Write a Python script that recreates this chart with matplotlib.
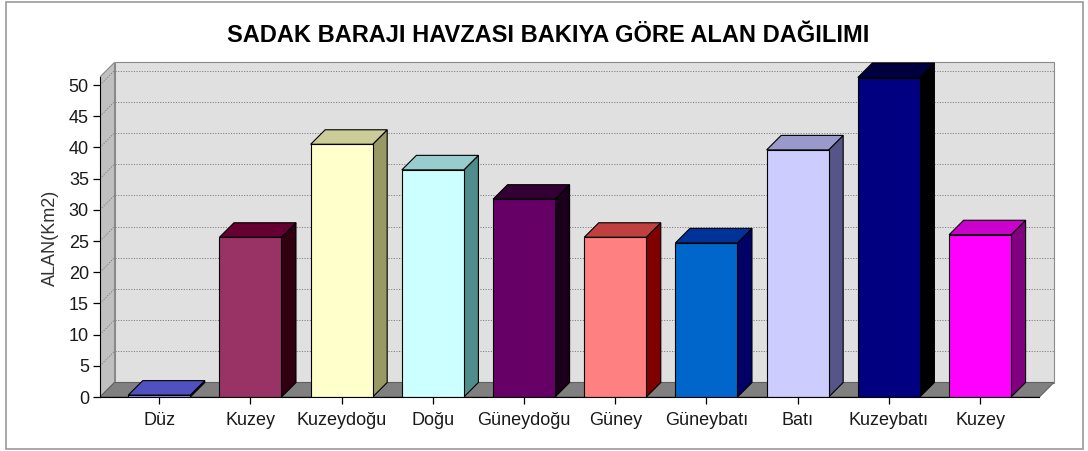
import matplotlib
matplotlib.use("Agg")
import matplotlib.pyplot as plt
from matplotlib.patches import Polygon, Rectangle

plt.rcParams['font.family'] = ['Liberation Sans', 'DejaVu Sans']

categories = ["Düz", "Kuzey", "Kuzeydoğu", "Doğu", "Güneydoğu", "Güney",
              "Güneybatı", "Batı", "Kuzeybatı", "Kuzey"]
values = [0.3, 25.6, 40.5, 36.4, 31.7, 25.6, 24.7, 39.6, 51.2, 26.0]
front_colors = ["#9999FF", "#993366", "#FFFFCC", "#CCFFFF", "#660066",
                "#FF8080", "#0066CC", "#CCCCFF", "#000080", "#FF00FF"]
top_colors = ["#5050C0", "#660033", "#CCCC99", "#99CCCC", "#330033",
              "#C04040", "#003399", "#9999CC", "#000040", "#CC00CC"]
side_colors = ["#333388", "#300010", "#999966", "#4F8C8C", "#1A001A",
               "#800000", "#000066", "#555588", "#000000", "#800080"]
yticks = list(range(0, 51, 5))
title = "SADAK BARAJI HAVZASI BAKIYA GÖRE ALAN DAĞILIMI"
ylabel = "ALAN(Km2)"

W_PX, H_PX = 1088, 451
fig = plt.figure(figsize=(W_PX / 100, H_PX / 100), dpi=100)
fig.patch.set_facecolor("white")

# geometry (pixels)
px_left, px_right, px_top, px_bottom = 100, 1060, 60, 397
px_per_cat = 91.2
px_per_val = 6.24
ax = fig.add_axes([px_left / W_PX, (H_PX - px_bottom) / H_PX,
                   (px_right - px_left) / W_PX, (px_bottom - px_top) / H_PX])
XL = -0.65
XR = len(categories) - 1 + 0.65
ax.set_xlim(XL, XL + (px_right - px_left) / px_per_cat)
ax.set_ylim(0, (px_bottom - px_top) / px_per_val)
ax.set_facecolor("none")
DX = 14.5 / px_per_cat
DY = 14.5 / px_per_val
YMAX = 51.3

# walls
back = Polygon([(XL + DX, DY), (XR + DX, DY), (XR + DX, YMAX + DY), (XL + DX, YMAX + DY)],
               closed=True, facecolor="#E0E0E0", edgecolor="#8a8a8a", lw=0.8, zorder=1)
left = Polygon([(XL, 0), (XL + DX, DY), (XL + DX, YMAX + DY), (XL, YMAX)],
               closed=True, facecolor="#C0C0C0", edgecolor="#8a8a8a", lw=0.8, zorder=1)
floor = Polygon([(XL, 0), (XR, 0), (XR + DX, DY), (XL + DX, DY)],
                closed=True, facecolor="#808080", edgecolor="#606060", lw=0.8, zorder=1)
for p in (back, left, floor):
    ax.add_patch(p)

# gridlines
for v in yticks[1:]:
    ax.plot([XL + DX, XR + DX], [v + DY, v + DY], color="#808080", lw=0.7,
            ls=(0, (1.2, 1.5)), zorder=2)
    ax.plot([XL, XL + DX], [v, v + DY], color="#808080", lw=0.7,
            ls=(0, (1.2, 1.5)), zorder=2)

# bars
BW = 0.68
xs = list(range(len(categories)))
for x, v, fc, tc, sc in zip(xs, values, front_colors, top_colors, side_colors):
    side = Polygon([(x + BW / 2, 0), (x + BW / 2 + DX, DY), (x + BW / 2 + DX, v + DY), (x + BW / 2, v)],
                   closed=True, facecolor=sc, edgecolor="black", lw=0.8, zorder=3)
    top = Polygon([(x - BW / 2, v), (x + BW / 2, v), (x + BW / 2 + DX, v + DY), (x - BW / 2 + DX, v + DY)],
                  closed=True, facecolor=tc, edgecolor="black", lw=0.8, zorder=3)
    ax.add_patch(side)
    ax.add_patch(top)
ax.bar(xs, values, width=BW, color=front_colors, edgecolor="black", lw=0.8, zorder=4)

# axes
for s in ("top", "right"):
    ax.spines[s].set_visible(False)
ax.spines["left"].set_bounds(0, YMAX)
ax.spines["bottom"].set_bounds(XL, XR)
ax.spines["left"].set_zorder(5)
ax.spines["bottom"].set_zorder(5)
ax.set_yticks(yticks)
ax.set_xticks(xs)
ax.set_xticklabels(categories)
ax.tick_params(axis="both", direction="out", length=5, width=0.9, labelsize=13,
               colors="black", labelcolor="#1a1a1a", pad=3)
ax.tick_params(axis="x", pad=6)

fig.text(50 / W_PX, 1 - 238 / H_PX, ylabel, rotation=90, ha="center", va="center",
         fontsize=13, color="#333333")
fig.text(548 / W_PX, 1 - 36 / H_PX, title, ha="center", va="center",
         fontsize=17, fontweight="bold", color="black")

# outer border
fig.patches.append(Rectangle((6 / W_PX, 2 / H_PX), 1077 / W_PX, 447 / H_PX,
                             transform=fig.transFigure, fill=False,
                             edgecolor="#999999", lw=1.2))

fig.savefig("out.png", dpi=100)
